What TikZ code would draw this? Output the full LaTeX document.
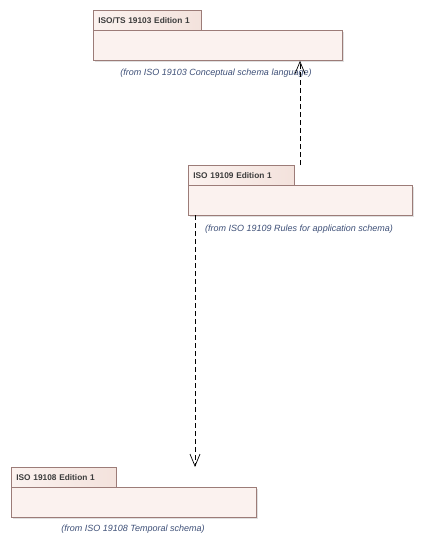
\documentclass[tikz,border=0pt]{standalone}
\usepackage{fontspec}
\setmainfont{Liberation Sans}
\usetikzlibrary{arrows.meta,positioning}
\definecolor{pkgfill}{HTML}{FBF2EF}
\definecolor{tabfill}{HTML}{F3E2DC}
\definecolor{pkgline}{HTML}{9C7C78}
\definecolor{tabtext}{HTML}{3C3C3C}
\definecolor{fromtext}{HTML}{3E5078}
\tikzset{
  pkgtab/.style={draw=pkgline, line width=0.8pt, left color=pkgfill, right color=tabfill, anchor=north west, inner sep=0pt, minimum height=20pt, text width=#1, text=tabtext, font=\fontsize{8.3}{9}\selectfont\bfseries, align=left},
  pkgbody/.style={draw=pkgline, line width=0.8pt, fill=pkgfill, anchor=north west, inner sep=0pt, minimum height=30pt, minimum width=#1},
  pkgshadow/.style={fill=black!12, anchor=north west, inner sep=0pt, minimum height=30pt, minimum width=#1},
  fromlabel/.style={text=fromtext, font=\fontsize{9}{10}\selectfont\itshape, inner sep=0pt},
  dep/.style={draw=black, line width=0.7pt, dash pattern=on 5pt off 3pt, -{Straight Barb[length=12pt,width=10pt,line width=0.7pt]}}
}
\begin{document}
\begin{tikzpicture}[x=1pt,y=-1pt]
\useasboundingbox (0,0) rectangle (422,546);
\fill[white] (0,0) rectangle (422,546);
% package 1
\node[pkgshadow=249pt] (p1sh) at (95,32) {};
\node[pkgtab=108pt] (p1tab) at (93,10) {\hspace{5pt}ISO/TS 19103 Edition 1};
\node[pkgbody=249pt] (p1body) at (93,30) {};
\node[fromlabel] (p1from) at (216,73) {(from ISO 19103 Conceptual schema language)};
% package 2
\node[pkgshadow=224pt] (p2sh) at (190,187) {};
\node[pkgtab=106pt] (p2tab) at (188,165) {\hspace{5pt}ISO 19109 Edition 1};
\node[pkgbody=224pt] (p2body) at (188,185) {};
\node[fromlabel] (p2from) at (299,229) {(from ISO 19109 Rules for application schema)};
% package 3
\node[pkgshadow=245pt] (p3sh) at (13,489) {};
\node[pkgtab=105pt] (p3tab) at (11,467) {\hspace{5pt}ISO 19108 Edition 1};
\node[pkgbody=245pt] (p3body) at (11,487) {};
\node[fromlabel] (p3from) at (133,529) {(from ISO 19108 Temporal schema)};
% dependencies
\coordinate (d1s) at (300,165);
\coordinate (d2s) at (195,215);
\draw[dep] (d1s) -- (d1s |- p1body.south);
\draw[dep] (d2s) -- (d2s |- p3tab.north);
\end{tikzpicture}
\end{document}
